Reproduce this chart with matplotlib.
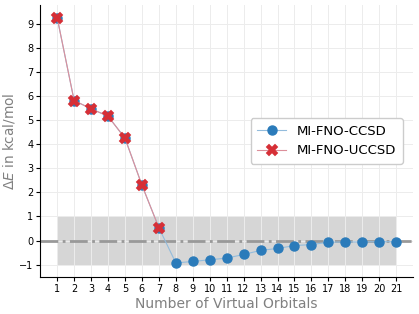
import matplotlib
matplotlib.use("Agg")
import matplotlib.pyplot as plt

# number of virtual orbitals
n_virt = list(range(1, 22))
# energy error (kcal/mol)
de_ccsd = [9.25, 5.81, 5.47, 5.16, 4.25, 2.30, 0.53, -0.93, -0.87, -0.80,
           -0.73, -0.58, -0.41, -0.33, -0.21, -0.17, -0.07, -0.06, -0.06,
           -0.05, -0.05]
n_virt_u = list(range(1, 8))
de_uccsd = [9.25, 5.81, 5.47, 5.16, 4.25, 2.30, 0.53]

blue = "#2b7bba"
red = "#d62f36"

fig, ax = plt.subplots(figsize=(4.19, 3.14), dpi=100)
fig.subplots_adjust(left=0.096, right=0.986, top=0.983, bottom=0.118)

ax.grid(True, color="#ececec", linewidth=0.7, zorder=0)
ax.fill_between([n_virt[0], n_virt[-1]], -1, 1, color="#d6d6d6", zorder=1,
                linewidth=0)
ax.axhline(0, color="#999999", linestyle="-.", linewidth=2.0, zorder=2)

# light connecting lines, solid markers
ax.plot(n_virt, de_ccsd, marker="o", color="#93bcdc", markerfacecolor=blue,
        markeredgecolor=blue, markersize=6.5, linewidth=0.8, zorder=3,
        label="MI-FNO-CCSD")
ax.plot(n_virt_u, de_uccsd, marker="X", color="#dc8f9a", markerfacecolor=red,
        markeredgecolor=red, markersize=8, markeredgewidth=0.3,
        linewidth=0.8, zorder=4, label="MI-FNO-UCCSD")

ax.set_xlim(0, 22)
ax.set_xticks(n_virt)
ax.set_yticks(range(-1, 10))
ax.tick_params(labelsize=7, length=3, pad=2)
for side in ("top", "right"):
    ax.spines[side].set_visible(False)

ax.set_xlabel("Number of Virtual Orbitals", color="#808080", fontsize=10,
              labelpad=2)
ax.set_ylabel(r"$\Delta E$ in kcal/mol", color="#808080", fontsize=9.8)
ax.yaxis.set_label_coords(-0.062, 0.5)

ax.legend(loc="center right", bbox_to_anchor=(0.99, 0.5), fontsize=9.5,
          framealpha=1, borderpad=0.5, handlelength=2.2)

fig.savefig("out.png", dpi=100)
